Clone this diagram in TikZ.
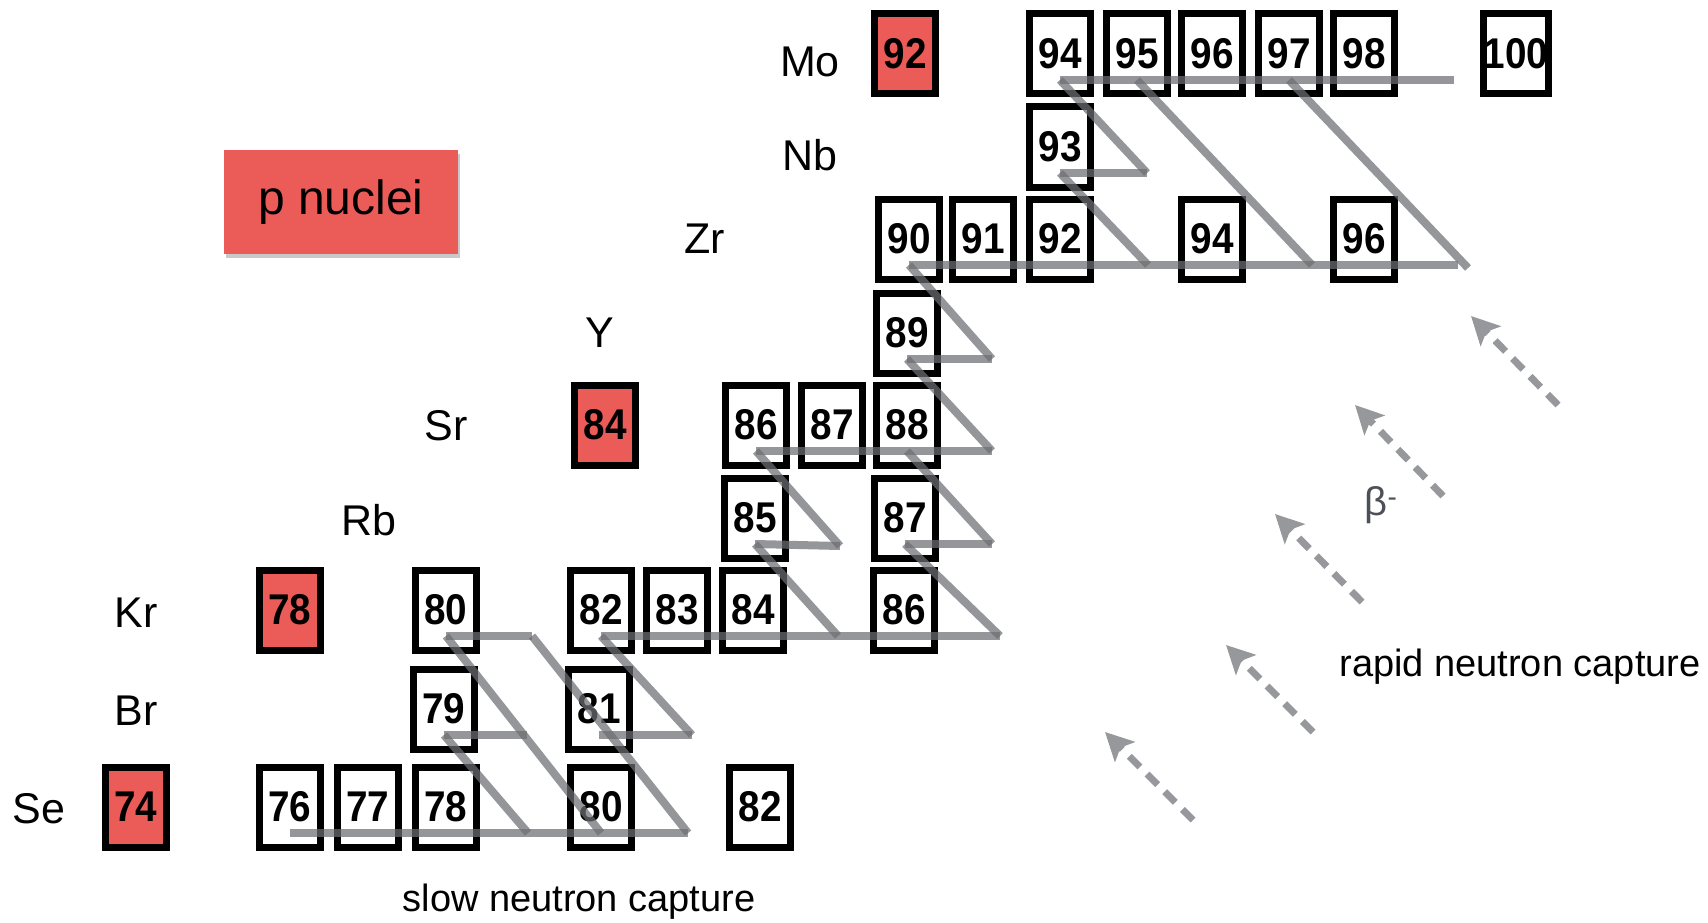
\documentclass[tikz,border=0pt]{standalone}
\usepackage{fontspec}
\setmainfont{Liberation Sans}
\newfontfamily\numfont{Liberation Sans}[FakeStretch=0.9]
\usetikzlibrary{arrows.meta,shadows}
\definecolor{pred}{RGB}{235,92,88}
\definecolor{sgrey}{RGB}{108,110,114}
\definecolor{rgrey}{RGB}{150,152,156}
\definecolor{betagrey}{RGB}{78,80,88}
% one isotope box: style, name, centre, mass number; (name p) is where the flow line runs
\newcommand\iso[4][nucbox]{%
  \node[#1] (#2) at (#3) {#4};
  \path (#2.center) ++(0,26) coordinate (#2p);}
\begin{document}
\begin{tikzpicture}[x=1pt,y=-1pt,
  nucbox/.style={draw=black, line width=7pt, fill=white, minimum width=61pt,
    minimum height=80pt, inner sep=0pt, font=\fontsize{43}{43}\numfont\bfseries},
  pbox/.style={nucbox, fill=pred},
  elem/.style={font=\fontsize{43}{43}\selectfont, inner sep=0pt},
  capt/.style={font=\fontsize{38}{38}\selectfont, inner sep=0pt},
  sflow/.style={draw=sgrey, line width=8pt, opacity=0.72},
  rflow/.style={draw=rgrey, line width=7pt, dash pattern=on 15pt off 10pt,
    -{Stealth[length=28pt,width=28pt,inset=6pt]}}]
\useasboundingbox (0,0) rectangle (1708,923);

% legend
\node[fill=pred, minimum width=234pt, minimum height=104pt, inner sep=0pt,
  drop shadow={shadow xshift=2pt, shadow yshift=-4pt, opacity=0.3, fill=black!70},
  font=\fontsize{48}{48}\selectfont] (legend) at (341,202) {p nuclei};

% element labels
\node[elem] (lMo) at (810,62) {Mo};
\node[elem] (lNb) at (810,155) {Nb};
\node[elem] (lZr) at (705,239) {Zr};
\node[elem] (lY)  at (600,333) {Y};
\node[elem] (lSr) at (446,426) {Sr};
\node[elem] (lRb) at (369,520) {Rb};
\node[elem] (lKr) at (136,613) {Kr};
\node[elem] (lBr) at (136,711) {Br};
\node[elem] (lSe) at (39,809) {Se};

% Mo
\iso[pbox]{Mo92}{905,54}{92}
\iso{Mo94}{1060,54}{94}
\iso{Mo95}{1137,54}{95}
\iso{Mo96}{1212,54}{96}
\iso{Mo97}{1289,54}{97}
\iso{Mo98}{1364,54}{98}
\iso{Mo100}{1516,54}{100}
% Nb
\iso{Nb93}{1060,147}{93}
% Zr
\iso{Zr90}{909,239}{90}
\iso{Zr91}{983,239}{91}
\iso{Zr92}{1060,239}{92}
\iso{Zr94}{1212,239}{94}
\iso{Zr96}{1364,239}{96}
% Y
\iso{Y89}{907,333}{89}
% Sr
\iso[pbox]{Sr84}{605,425}{84}
\iso{Sr86}{756,425}{86}
\iso{Sr87}{832,425}{87}
\iso{Sr88}{907,425}{88}
% Rb
\iso{Rb85}{755,518}{85}
\iso{Rb87}{905,518}{87}
% Kr
\iso[pbox]{Kr78}{290,610}{78}
\iso{Kr80}{446,610}{80}
\iso{Kr82}{601,610}{82}
\iso{Kr83}{677,610}{83}
\iso{Kr84}{753,610}{84}
\iso{Kr86}{904,610}{86}
% Br
\iso{Br79}{444,709}{79}
\iso{Br81}{599,709}{81}
% Se
\iso[pbox]{Se74}{136,807}{74}
\iso{Se76}{290,807}{76}
\iso{Se77}{368,807}{77}
\iso{Se78}{446,807}{78}
\iso{Se80}{601,807}{80}
\iso{Se82}{760,807}{82}

% short-lived points on the s-process path
\coordinate (Mo99) at (1454,80);
\coordinate (Nb94) at (1147,173);
\coordinate (Zr93) at (1148,265);
\coordinate (Zr95) at (1312,265);
\coordinate (Zr97) at (1468,268);
\coordinate (Zrend) at (1458,265);
\coordinate (Y90) at (992,359);
\coordinate (Sr89) at (992,451);
\coordinate (Rb86) at (840,546);
\coordinate (Rb88) at (992,544);
\coordinate (Kr81) at (532,636);
\coordinate (Kr85) at (838,636);
\coordinate (Kr87) at (1000,636);
\coordinate (Br80) at (527,735);
\coordinate (Br82) at (692,735);
\coordinate (Se79) at (528,833);
\coordinate (Se81) at (688,833);

% s-process: neutron captures (horizontal) and beta decays (diagonal)
\draw[sflow] (Se76p) -- (Se81);
\draw[sflow] (Se79) -- (Br79p);
\draw[sflow] (Br79p) -- (Br80);
\draw[sflow] (Se80p) -- (Kr80p);
\draw[sflow] (Kr80p) -- (Kr81);
\draw[sflow] (Se81) -- (Kr81);
\draw[sflow] (Br81p) -- (Br82);
\draw[sflow] (Br82) -- (Kr82p);
\draw[sflow] (Kr82p) -- (Kr87);
\draw[sflow] (Kr85) -- (Rb85p);
\draw[sflow] (Rb85p) -- (Rb86);
\draw[sflow] (Rb86) -- (Sr86p);
\draw[sflow] (Kr87) -- (Rb87p);
\draw[sflow] (Rb87p) -- (Rb88);
\draw[sflow] (Rb88) -- (Sr88p);
\draw[sflow] (Sr86p) -- (Sr89);
\draw[sflow] (Sr89) -- (Y89p);
\draw[sflow] (Y89p) -- (Y90);
\draw[sflow] (Y90) -- (Zr90p);
\draw[sflow] (Zr90p) -- (Zrend);
\draw[sflow] (Zr93) -- (Nb93p);
\draw[sflow] (Nb93p) -- (Nb94);
\draw[sflow] (Nb94) -- (Mo94p);
\draw[sflow] (Zr95) -- (Mo95p);
\draw[sflow] (Zr97) -- (Mo97p);
\draw[sflow] (Mo94p) -- (Mo99);

% r-process: beta decays back towards stability
\coordinate (t1) at (1558,405); \coordinate (h1) at (1471,316);
\coordinate (t2) at (1443,496); \coordinate (h2) at (1355,405);
\coordinate (t3) at (1362,602); \coordinate (h3) at (1275,514);
\coordinate (t4) at (1313,732); \coordinate (h4) at (1226,645);
\coordinate (t5) at (1193,820); \coordinate (h5) at (1105,732);
\draw[rflow] (t1) -- (h1);
\draw[rflow] (t2) -- (h2);
\draw[rflow] (t3) -- (h3);
\draw[rflow] (t4) -- (h4);
\draw[rflow] (t5) -- (h5);

\node[font=\fontsize{40}{40}\selectfont, text=betagrey, inner sep=0pt] (beta) at (1381,505) {β\textsuperscript{-}};
\node[capt] (rcap) at (1520,667) {rapid neutron capture};
\node[capt] (scap) at (579,902) {slow neutron capture};
\end{tikzpicture}
\end{document}
